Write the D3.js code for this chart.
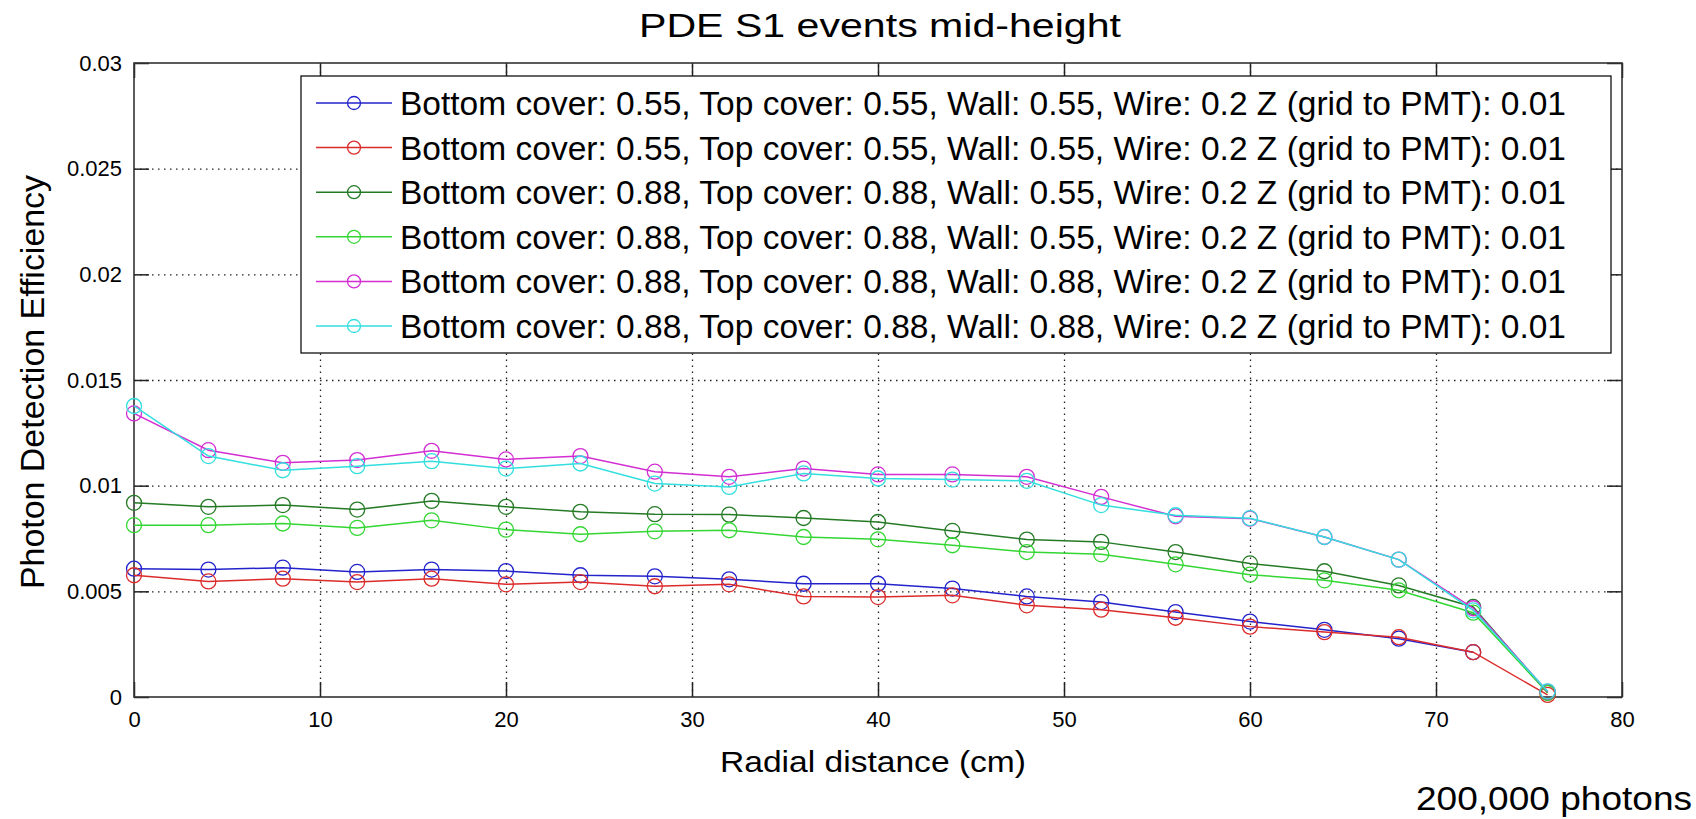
<!DOCTYPE html>
<html>
<head>
<meta charset="utf-8">
<script src="https://cdn.jsdelivr.net/npm/d3@7"></script>
<style>
  html, body { margin: 0; padding: 0; background: #fff; }
  svg { display: block; font-family: "Liberation Sans", Arial, Helvetica, sans-serif; }
</style>
</head>
<body>
<script>
// radial positions (cm)
const radius = [0, 4, 8, 12, 16, 20, 24, 28, 32, 36, 40, 44, 48, 52, 56, 60, 64, 68, 72, 76];

// photon detection efficiency per configuration
const pdeBlue = [0.00607, 0.00603, 0.00612, 0.00592, 0.00603, 0.00596, 0.00576, 0.00571, 0.00557, 0.00536,
  0.00536, 0.00513, 0.00476, 0.00449, 0.00402, 0.00357, 0.00318, 0.00276, 0.00212];
const pdeRed = [0.00576, 0.00547, 0.0056, 0.00544, 0.0056, 0.00533, 0.00544, 0.00524, 0.00533, 0.00476,
  0.00473, 0.00481, 0.00434, 0.00413, 0.00375, 0.00333, 0.00307, 0.00283, 0.00212, 0.0001];
const pdeDarkGreen = [0.00919, 0.0090, 0.00908, 0.00887, 0.00928, 0.0090, 0.00876, 0.00865, 0.00863, 0.00847,
  0.00828, 0.00786, 0.00745, 0.00734, 0.00686, 0.00632, 0.00595, 0.00528, 0.00426, 0.0002];
const pdeGreen = [0.00813, 0.00813, 0.00821, 0.0080, 0.00836, 0.00792, 0.0077, 0.00784, 0.00789, 0.00757,
  0.00746, 0.00718, 0.00686, 0.00675, 0.00628, 0.00579, 0.00552, 0.00505, 0.00399, 0.0002];
const pdeMagenta = [0.01342, 0.01168, 0.01108, 0.01121, 0.01165, 0.01124, 0.0114, 0.01066, 0.01042, 0.01081,
  0.01053, 0.01053, 0.01042, 0.00947, 0.00855, 0.00844, 0.00757, 0.0065, 0.0042, 0.00025];
const pdeCyan = [0.01377, 0.0114, 0.01073, 0.01092, 0.01116, 0.01081, 0.01105, 0.0101, 0.00994, 0.01058,
  0.01034, 0.01029, 0.01023, 0.00908, 0.0086, 0.00846, 0.00757, 0.0065, 0.0041, 0.00027];

const labels = [
  "Bottom cover: 0.55, Top cover: 0.55, Wall: 0.55, Wire: 0.2 Z (grid to PMT): 0.01",
  "Bottom cover: 0.55, Top cover: 0.55, Wall: 0.55, Wire: 0.2 Z (grid to PMT): 0.01",
  "Bottom cover: 0.88, Top cover: 0.88, Wall: 0.55, Wire: 0.2 Z (grid to PMT): 0.01",
  "Bottom cover: 0.88, Top cover: 0.88, Wall: 0.55, Wire: 0.2 Z (grid to PMT): 0.01",
  "Bottom cover: 0.88, Top cover: 0.88, Wall: 0.88, Wire: 0.2 Z (grid to PMT): 0.01",
  "Bottom cover: 0.88, Top cover: 0.88, Wall: 0.88, Wire: 0.2 Z (grid to PMT): 0.01"
];
const colors = ["#2323cc", "#dc2b2b", "#257a25", "#33d633", "#d22ed2", "#33dede"];
const seriesValues = [pdeBlue, pdeRed, pdeDarkGreen, pdeGreen, pdeMagenta, pdeCyan];

const xTicks = [0, 10, 20, 30, 40, 50, 60, 70, 80];
const yTicks = [0, 0.005, 0.01, 0.015, 0.02, 0.025, 0.03];

const width = 1696, height = 819;
const m = { left: 134, right: 1622, top: 63, bottom: 697 };

const svg = d3.select("body").append("svg")
  .attr("width", width)
  .attr("height", height);

const x = d3.scaleLinear().domain([0, 80]).range([m.left, m.right]);
const y = d3.scaleLinear().domain([0, 0.03]).range([m.bottom, m.top]);

// dotted grid
const grid = svg.append("g").attr("class", "grid");
grid.append("g")
  .attr("transform", `translate(0,${m.bottom})`)
  .call(d3.axisBottom(x).tickValues(xTicks.slice(1, -1)).tickSize(-(m.bottom - m.top)).tickFormat(""));
grid.append("g")
  .attr("transform", `translate(${m.left},0)`)
  .call(d3.axisLeft(y).tickValues(yTicks.slice(1, -1)).tickSize(-(m.right - m.left)).tickFormat(""));
grid.selectAll(".domain").remove();
grid.selectAll("line")
  .attr("stroke", "#222")
  .attr("stroke-width", 1.3)
  .attr("stroke-dasharray", "1.5,4.5");

// axes, ticks pointing inward
const fmtY = d => d === 0 ? "0" : String(+d.toFixed(3));
const tickLen = -15;

const axBottom = svg.append("g")
  .attr("transform", `translate(0,${m.bottom})`)
  .call(d3.axisBottom(x).tickValues(xTicks).tickSize(tickLen).tickPadding(14).tickFormat(d3.format("d")));
const axTop = svg.append("g")
  .attr("transform", `translate(0,${m.top})`)
  .call(d3.axisTop(x).tickValues(xTicks).tickSize(tickLen).tickFormat(""));
const axLeft = svg.append("g")
  .attr("transform", `translate(${m.left},0)`)
  .call(d3.axisLeft(y).tickValues(yTicks).tickSize(tickLen).tickPadding(12).tickFormat(fmtY));
const axRight = svg.append("g")
  .attr("transform", `translate(${m.right},0)`)
  .call(d3.axisRight(y).tickValues(yTicks).tickSize(tickLen).tickFormat(""));

[axBottom, axTop, axLeft, axRight].forEach(a => {
  a.select(".domain").remove();
  a.selectAll("line").attr("stroke", "#222").attr("stroke-width", 1.5);
  a.selectAll("text").attr("fill", "#000").style("font-size", "22px");
});
axLeft.selectAll("text").attr("x", -12);

svg.append("rect")
  .attr("x", m.left).attr("y", m.top)
  .attr("width", m.right - m.left).attr("height", m.bottom - m.top)
  .attr("fill", "none")
  .attr("stroke", "#333")
  .attr("stroke-width", 1.6);

// series
const line = d3.line().x(d => x(d[0])).y(d => y(d[1]));
seriesValues.forEach((vals, i) => {
  const pts = vals.map((v, k) => [radius[k], v]);
  const g = svg.append("g");
  g.append("path")
    .datum(pts)
    .attr("d", line)
    .attr("fill", "none")
    .attr("stroke", colors[i])
    .attr("stroke-width", 1.5);
  g.selectAll("circle")
    .data(pts)
    .enter().append("circle")
    .attr("cx", d => x(d[0]))
    .attr("cy", d => y(d[1]))
    .attr("r", 7.5)
    .attr("fill", "none")
    .attr("stroke", colors[i])
    .attr("stroke-width", 1.3);
});

// legend
const legend = svg.append("g").attr("transform", "translate(301,76)");
legend.append("rect")
  .attr("width", 1310).attr("height", 277)
  .attr("fill", "#fff")
  .attr("stroke", "#111")
  .attr("stroke-width", 1.3);

labels.forEach((lab, i) => {
  const cy = 27 + i * 44.6;
  legend.append("line")
    .attr("x1", 15).attr("x2", 91)
    .attr("y1", cy).attr("y2", cy)
    .attr("stroke", colors[i]).attr("stroke-width", 1.5);
  legend.append("circle")
    .attr("cx", 53).attr("cy", cy).attr("r", 6.5)
    .attr("fill", "none").attr("stroke", colors[i]).attr("stroke-width", 1.3);
  legend.append("text")
    .attr("x", 99).attr("y", cy + 12)
    .attr("textLength", 1166)
    .attr("lengthAdjust", "spacingAndGlyphs")
    .style("font-size", "33px")
    .text(lab);
});

// titles
svg.append("text")
  .attr("x", 880).attr("y", 37)
  .attr("text-anchor", "middle")
  .attr("textLength", 482)
  .attr("lengthAdjust", "spacingAndGlyphs")
  .style("font-size", "34px")
  .text("PDE S1 events mid-height");

svg.append("text")
  .attr("x", 873).attr("y", 772)
  .attr("text-anchor", "middle")
  .attr("textLength", 306)
  .attr("lengthAdjust", "spacingAndGlyphs")
  .style("font-size", "30px")
  .text("Radial distance (cm)");

svg.append("text")
  .attr("transform", "translate(44,382) rotate(-90)")
  .attr("text-anchor", "middle")
  .attr("textLength", 414)
  .attr("lengthAdjust", "spacingAndGlyphs")
  .style("font-size", "33px")
  .text("Photon Detection Efficiency");

svg.append("text")
  .attr("x", 1416).attr("y", 810)
  .attr("textLength", 276)
  .attr("lengthAdjust", "spacingAndGlyphs")
  .style("font-size", "33px")
  .text("200,000 photons");
</script>
</body>
</html>
